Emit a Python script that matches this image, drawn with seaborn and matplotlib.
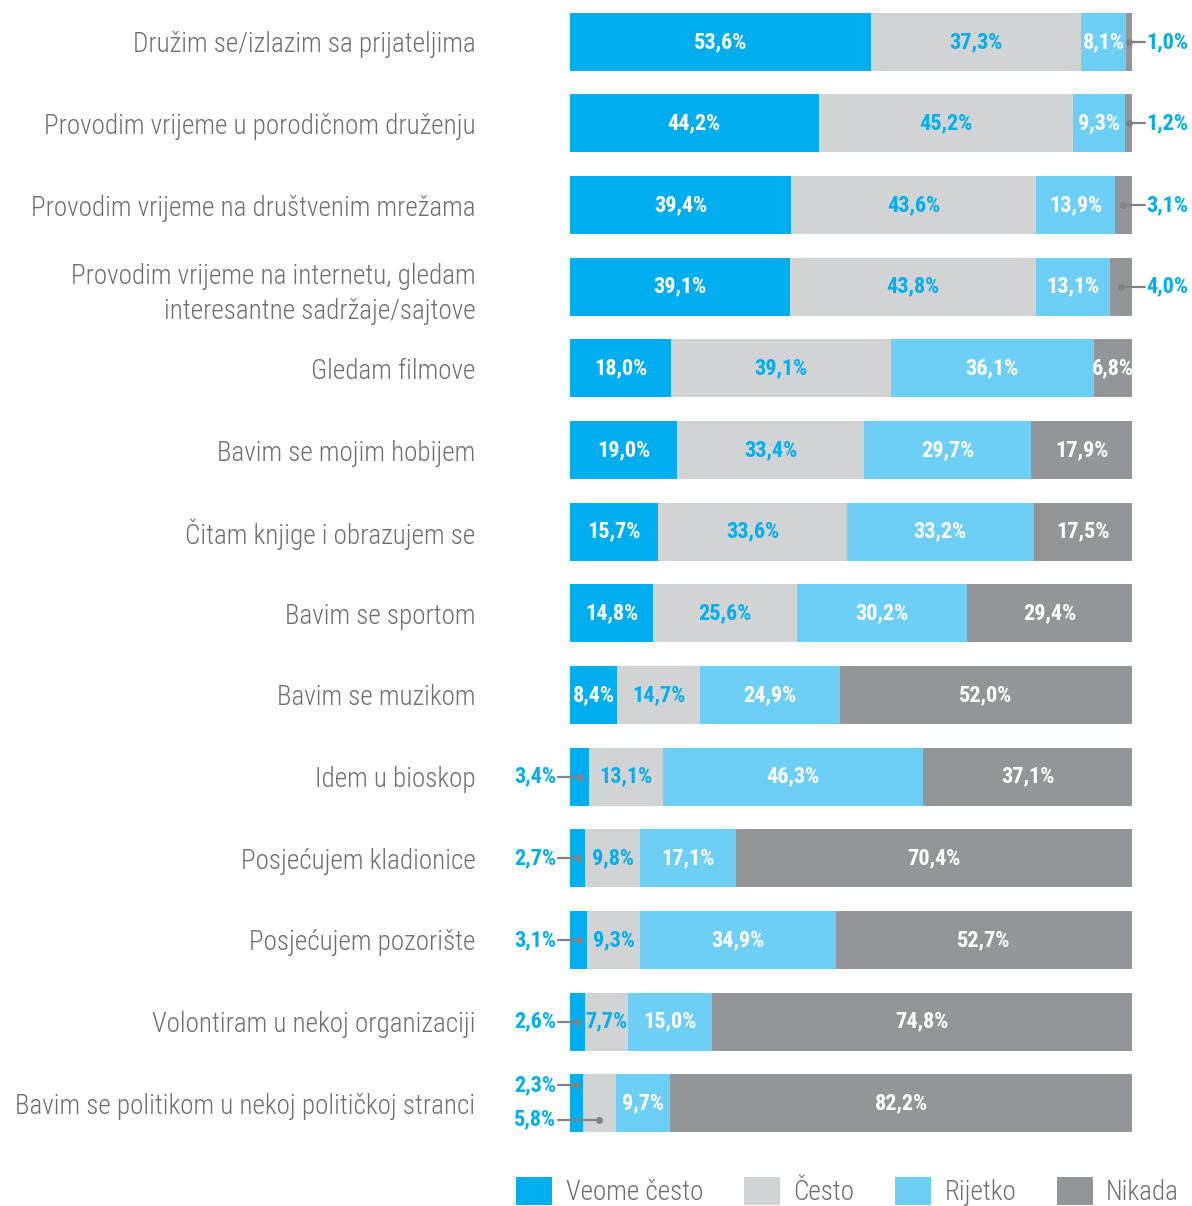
import matplotlib
matplotlib.use("Agg")
import matplotlib.pyplot as plt
from matplotlib.patches import Patch
import pandas as pd
import seaborn as sns

sns.set_theme(style="white")
plt.rcParams["font.family"] = ["Roboto Condensed", "DejaVu Sans"]

# Activities (top to bottom)
activities = [
    "Družim se/izlazim sa prijateljima",
    "Provodim vrijeme u porodičnom druženju",
    "Provodim vrijeme na društvenim mrežama",
    "Provodim vrijeme na internetu, gledam\ninteresantne sadržaje/sajtove",
    "Gledam filmove",
    "Bavim se mojim hobijem",
    "Čitam knjige i obrazujem se",
    "Bavim se sportom",
    "Bavim se muzikom",
    "Idem u bioskop",
    "Posjećujem kladionice",
    "Posjećujem pozorište",
    "Volontiram u nekoj organizaciji",
    "Bavim se politikom u nekoj političkoj stranci",
]

# Share of answers per activity (%)
veome_cesto = [53.6, 44.2, 39.4, 39.1, 18.0, 19.0, 15.7, 14.8, 8.4, 3.4, 2.7, 3.1, 2.6, 2.3]
cesto = [37.3, 45.2, 43.6, 43.8, 39.1, 33.4, 33.6, 25.6, 14.7, 13.1, 9.8, 9.3, 7.7, 5.8]
rijetko = [8.1, 9.3, 13.9, 13.1, 36.1, 29.7, 33.2, 30.2, 24.9, 46.3, 17.1, 34.9, 15.0, 9.7]
nikada = [1.0, 1.2, 3.1, 4.0, 6.8, 17.9, 17.5, 29.4, 52.0, 37.1, 70.4, 52.7, 74.8, 82.2]

series_names = ["Veome često", "Često", "Rijetko", "Nikada"]
series_values = [veome_cesto, cesto, rijetko, nikada]
colors = ["#00AEEF", "#D1D3D4", "#6DCFF6", "#939598"]
label_colors = ["white", "#00AEEF", "white", "white"]
outside_color = "#00AEEF"
leader_color = "#808285"
text_gray = "#6D6E71"

df = pd.DataFrame({"activity": activities})
for name, vals in zip(series_names, series_values):
    df[name] = vals
totals = df[series_names].sum(axis=1)
shares = df[series_names].div(totals, axis=0) * 100
cum = shares.cumsum(axis=1)

fig = plt.figure(figsize=(11.92, 12.06), dpi=100)
ax = fig.add_axes([570 / 1192, 1 - 1144 / 1206, 562 / 1192, 1143 / 1206])

# Stacked bars: draw cumulative totals from the widest layer down
for name, color in reversed(list(zip(series_names, colors))):
    sns.barplot(data=cum.assign(activity=activities), x=name, y="activity",
                order=activities, color=color, saturation=1, width=0.71,
                linewidth=0, orient="h", ax=ax)

ax.set_xlim(0, 100)
ax.set_ylim(len(activities) - 0.5, -0.5)
ax.set_xlabel("")
ax.set_ylabel("")
ax.set_xticks([])
sns.despine(ax=ax, left=True, bottom=True)
ax.tick_params(axis="y", length=0, pad=68, labelsize=19.5, labelcolor=text_gray)
for lbl in ax.get_yticklabels():
    lbl.set_fontweight(300)
    lbl.set_linespacing(1.4)

val_fs = 16

def fmt(v):
    return f"{v:.1f}%".replace(".", ",")

for i in range(len(activities)):
    left_outside = []
    for j, name in enumerate(series_names):
        v = df.loc[i, name]
        w = shares.loc[i, name]
        start = cum.loc[i, name] - w
        mid = start + w / 2
        if w >= 6.0:
            ax.text(mid, i, fmt(v), ha="center", va="center", color=label_colors[j],
                    fontsize=val_fs, fontweight="bold")
        elif j == len(series_names) - 1:
            # narrow last segment: label to the right
            ax.plot([mid, 102.3], [i, i], color=leader_color, lw=1.6, clip_on=False)
            ax.plot([mid], [i], "o", color=leader_color, ms=4, clip_on=False)
            ax.text(102.5, i, fmt(v), ha="left", va="center", color=outside_color,
                    fontsize=val_fs, fontweight="bold")
        else:
            left_outside.append((mid, v))
    if left_outside:
        offsets = [0.0] if len(left_outside) == 1 else [-0.22, 0.2]
        for (mid, v), dy in zip(left_outside, offsets):
            y = i + dy
            ax.plot([-2.1, mid], [y, y], color=leader_color, lw=1.6, clip_on=False)
            ax.plot([mid], [y], "o", color=leader_color, ms=4, clip_on=False)
            ax.text(-2.5, y, fmt(v), ha="right", va="center", color=outside_color,
                    fontsize=val_fs, fontweight="bold")

handles = [Patch(facecolor=c, edgecolor="none") for c in colors]
leg = fig.legend(handles, series_names, loc="lower left", bbox_to_anchor=(516 / 1192, 0.0),
                 ncol=4, frameon=False, handlelength=1.33, handleheight=1.22,
                 handletextpad=0.5, columnspacing=1.5, borderaxespad=0, borderpad=0,
                 prop={"weight": 300, "size": 19.5})
for t in leg.get_texts():
    t.set_color(text_gray)

fig.savefig("out.png", dpi=100)
